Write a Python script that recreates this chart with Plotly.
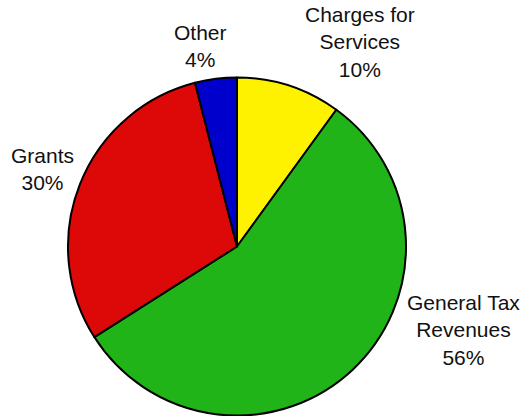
import plotly.graph_objects as go

labels = ["Charges for<br>Services", "General Tax<br>Revenues", "Grants", "Other"]
values = [10, 56, 30, 4]
colors = ["#FFF200", "#20B418", "#DD0808", "#0000CC"]

W, H = 525, 416
cx, cy, r = 237, 246.5, 169

fig = go.Figure(go.Pie(
    labels=labels, values=values, sort=False, direction="clockwise", rotation=0,
    marker=dict(colors=colors, line=dict(color="black", width=2)),
    textinfo="none", hoverinfo="label+percent",
    domain=dict(x=[(cx - r) / W, (cx + r) / W], y=[(H - cy - r) / H, (H - cy + r) / H]),
))

# label centre positions in pixels (x from left, y from top)
label_pos = [(360, 42), (463, 330), (42, 169), (200, 46)]
annos = []
for lab, v, (px, py) in zip(labels, values, label_pos):
    annos.append(dict(
        x=px / W, y=1 - py / H, xref="paper", yref="paper",
        text=f"{lab}<br>{v}%", showarrow=False, align="center",
        xanchor="center", yanchor="middle",
        font=dict(family="Liberation Sans, Arial", size=21, color="#111"),
    ))

fig.update_layout(
    width=W, height=H, margin=dict(l=0, r=0, t=0, b=0),
    paper_bgcolor="white", plot_bgcolor="white", showlegend=False,
    annotations=annos,
)
fig.write_html("out.html", config={"displayModeBar": False},
               post_script="document.body.style.margin='0';document.body.style.overflow='hidden';")
